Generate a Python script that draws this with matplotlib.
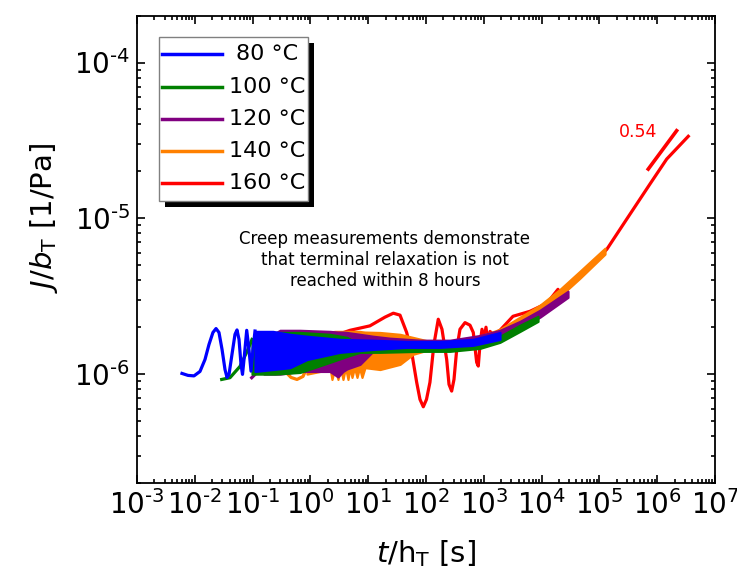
import matplotlib.pyplot as plt
import numpy as np
from matplotlib.patches import Rectangle
from matplotlib.ticker import FixedLocator, LogLocator, NullFormatter

plt.rcParams['font.family'] = ['DejaVu Sans']
plt.rcParams['mathtext.fontset'] = 'dejavusans'

J = 1e-6  # compliance values below are in units of 1e-6 1/Pa

labels = ['80 °C', '100 °C', '120 °C', '140 °C', '160 °C']
colors = ['#0000ff', '#008000', '#800080', '#ff8000', '#ff0000']

x_exp = [-3, -2, -1, 0, 1, 2, 3, 4, 5, 6, 7]
y_exp = [-6, -5, -4]

# 80 C: resolved oscillations, then a dense noisy band (lower / upper edge)
blue_t = [6.0e-3, 7.63e-3, 9.69e-3, 0.0123, 0.0150, 0.0176, 0.0206, 0.0233, 0.0262, 0.0296,
          0.0333, 0.0361, 0.0391, 0.0440, 0.0496, 0.0537, 0.0582, 0.0630, 0.0669, 0.0710,
          0.0791, 0.0866, 0.0938, 0.1016, 0.110]
blue_j = [1.01, 0.981, 0.974, 1.04, 1.24, 1.55, 1.85, 1.96, 1.85, 1.44,
          1.07, 0.952, 0.996, 1.34, 1.80, 1.92, 1.67, 1.155, 0.996, 1.24,
          1.91, 1.44, 1.045, 1.44, 1.89]
blue_band_t = [0.110, 0.225, 0.444, 0.873, 3.25, 12.1, 46.9, 175, 650, 1905]
blue_band_lo = [1.04, 1.07, 1.10, 1.24, 1.38, 1.44, 1.485, 1.485, 1.53, 1.67]
blue_band_hi = [1.88, 1.88, 1.80, 1.75, 1.67, 1.65, 1.62, 1.62, 1.67, 1.85]

# 100 C
green_t = [0.0292, 0.0406, 0.0605, 0.0832, 0.0977]
green_j = [0.924, 0.948, 1.12, 1.44, 1.67]
green_band_t = [0.0977, 0.244, 0.661, 2.18, 4.30, 7.21, 16.0, 78.7, 260, 859, 1905, 4230, 8670]
green_band_lo = [1.00, 1.00, 1.025, 1.19, 1.30, 1.38, 1.38, 1.40, 1.40, 1.463, 1.60, 1.88, 2.18]
green_band_hi = [1.67, 1.85, 1.85, 1.80, 1.72, 1.55, 1.51, 1.53, 1.53, 1.60, 1.75, 2.06, 2.35]

# 120 C
purple_t = [0.0965, 0.124, 0.157]
purple_j = [0.948, 1.04, 1.34]
purple_band_t = [0.157, 0.298, 0.661, 2.18, 3.00, 3.66, 4.30, 7.21, 12.1, 23.8, 78.7, 260, 859,
                 1905, 4230, 9380, 2.86e4]
purple_band_lo = [1.00, 1.00, 1.04, 1.04, 0.96, 1.04, 1.08, 1.155, 1.40, 1.44, 1.463, 1.485,
                  1.60, 1.72, 1.97, 2.32, 3.11]
purple_band_hi = [1.67, 1.91, 1.91, 1.88, 1.86, 1.86, 1.85, 1.80, 1.75, 1.70, 1.65, 1.65,
                  1.77, 1.91, 2.18, 2.57, 3.40]

# 140 C
orange_t = [0.364, 0.462, 0.586, 0.745, 0.873]
orange_j = [1.04, 0.952, 0.924, 0.966, 1.10]
orange_band_t = [0.873, 1.47, 2.18, 2.36, 2.66, 3.00, 3.32, 3.66, 4.05, 4.47, 4.84, 5.24, 5.79,
                 6.40, 7.07, 7.81, 8.80, 16.0, 35.5, 59.6, 117, 231, 859, 1905, 4230, 9380,
                 2.08e4, 4.62e4, 1.25e5]
orange_band_lo = [1.00, 1.04, 1.10, 0.924, 1.10, 0.924, 1.10, 0.924, 1.10, 0.924, 1.10, 0.952,
                  1.10, 0.952, 1.10, 0.952, 1.10, 1.07, 1.155, 1.34, 1.44, 1.485, 1.60, 1.75,
                  2.06, 2.49, 3.16, 4.13, 5.89]
orange_band_hi = [1.34, 1.83, 1.86, 1.87, 1.88, 1.88, 1.88, 1.88, 1.88, 1.88, 1.88, 1.88, 1.88,
                  1.88, 1.88, 1.87, 1.86, 1.85, 1.80, 1.72, 1.62, 1.58, 1.75, 1.94, 2.32, 2.77,
                  3.50, 4.58, 6.43]

# 160 C
red_t = [2.66, 4.84, 10.7, 19.5, 27.2, 35.5, 46.3, 57.3, 69.0, 78.7, 89.8, 102, 117, 137, 163,
         189, 228, 250, 278, 305, 340, 387, 473, 577, 658, 753, 803, 859, 931, 1008, 1091, 1182,
         1280, 1443, 1905, 3200, 6300, 1.24e4, 1.92e4, 2.23e4, 4.1e4, 6.87e4, 1.35e5, 2.97e5,
         7.5e5, 1.46e6, 3.45e6]
red_j = [1.77, 1.91, 2.04, 2.32, 2.46, 2.39, 1.85, 1.34, 0.885, 0.688, 0.617, 0.688, 0.885,
         1.55, 2.25, 1.94, 1.24, 0.859, 0.778, 0.924, 1.44, 1.94, 2.14, 2.06, 1.85, 1.19, 1.126,
         1.55, 1.94, 1.67, 2.0, 1.55, 1.88, 1.80, 1.91, 2.35, 2.53, 2.85, 3.50, 3.16, 4.19, 4.86,
         6.34, 9.88, 16.6, 24.0, 33.6]

# power-law guide
slope_t = [7.0e5, 2.17e6]
slope_j = [20.7, 36.5]

series = [
    (blue_t, blue_j, blue_band_t, blue_band_lo, blue_band_hi),
    (green_t, green_j, green_band_t, green_band_lo, green_band_hi),
    (purple_t, purple_j, purple_band_t, purple_band_lo, purple_band_hi),
    (orange_t, orange_j, orange_band_t, orange_band_lo, orange_band_hi),
]

fig = plt.figure(figsize=(7.37, 5.78), dpi=100)
ax = fig.add_axes([137 / 737, 1 - 483 / 578, 578 / 737, 467.4 / 578])

lw = 2.3
ax.plot(red_t, np.array(red_j) * J, color=colors[4], lw=lw, zorder=2)
for i in (3, 2, 1, 0):
    t, j, bt, lo, hi = series[i]
    c = colors[i]
    ax.fill_between(bt, np.array(lo) * J, np.array(hi) * J, color=c, lw=1.6, zorder=3 + (3 - i))
    ax.plot(t, np.array(j) * J, color=c, lw=lw, zorder=3 + (3 - i))

ax.plot(slope_t, np.array(slope_j) * J, color='#ff0000', lw=2.6, zorder=8)
ax.text(4.66e5, 35.8 * J, '0.54', color='#ff0000', fontsize=12.5, ha='center', va='center')

ax.set_xscale('log')
ax.set_yscale('log')
ax.set_xlim(1e-3, 1e7)
ax.set_ylim(2e-7, 2e-4)

# tick labels use a short hyphen in the exponent, as in the original
ax.xaxis.set_major_locator(FixedLocator([10.0 ** e for e in x_exp]))
ax.set_xticklabels([r'$\mathregular{10^{%s}}$' % str(e).replace('-', '\u2010') for e in x_exp])
ax.yaxis.set_major_locator(FixedLocator([10.0 ** e for e in y_exp]))
ax.set_yticklabels([r'$\mathregular{10^{%s}}$' % str(e).replace('-', '\u2010') for e in y_exp])
ax.xaxis.set_minor_locator(LogLocator(base=10, subs=np.arange(2, 10), numticks=20))
ax.yaxis.set_minor_locator(LogLocator(base=10, subs=np.arange(2, 10), numticks=20))
ax.xaxis.set_minor_formatter(NullFormatter())
ax.yaxis.set_minor_formatter(NullFormatter())
ax.tick_params(which='both', direction='in', top=True, right=True, width=1.2)
ax.tick_params(which='major', length=6, labelsize=20, pad=5)
ax.tick_params(which='minor', length=3)
for s in ax.spines.values():
    s.set_linewidth(1.3)

ax.set_xlabel(r'$t$/h$_\mathregular{T}$ [s]', fontsize=21)
ax.set_ylabel(r'$J/b_\mathregular{T}$ [1/Pa]', fontsize=21)
ax.xaxis.set_label_coords(0.5, -0.118)
ax.yaxis.set_label_coords(-0.133, 0.567)

ax.text(0.429, 0.477, 'Creep measurements demonstrate\nthat terminal relaxation is not\nreached within 8 hours',
        transform=ax.transAxes, ha='center', va='center', fontsize=12, linespacing=1.2)

# legend with a solid drop shadow
ax.add_patch(Rectangle((0.049, 0.5911), 0.2572, 0.3497, transform=ax.transAxes,
                       facecolor='black', edgecolor='none', zorder=20))
ax.add_patch(Rectangle((0.0386, 0.604), 0.2578, 0.3496, transform=ax.transAxes,
                       facecolor='white', edgecolor='#808080', lw=1, zorder=21))
rows = [0.9172, 0.8466, 0.7788, 0.7097, 0.6418]
for lab, c, y in zip(labels, colors, rows):
    ax.plot([0.0427, 0.1465], [y, y], transform=ax.transAxes, color=c, lw=2.5, zorder=22)
    ax.text(0.2244, y, lab, transform=ax.transAxes, ha='center', va='center',
            fontsize=16, zorder=22)

fig.savefig('out.png', dpi=100)
